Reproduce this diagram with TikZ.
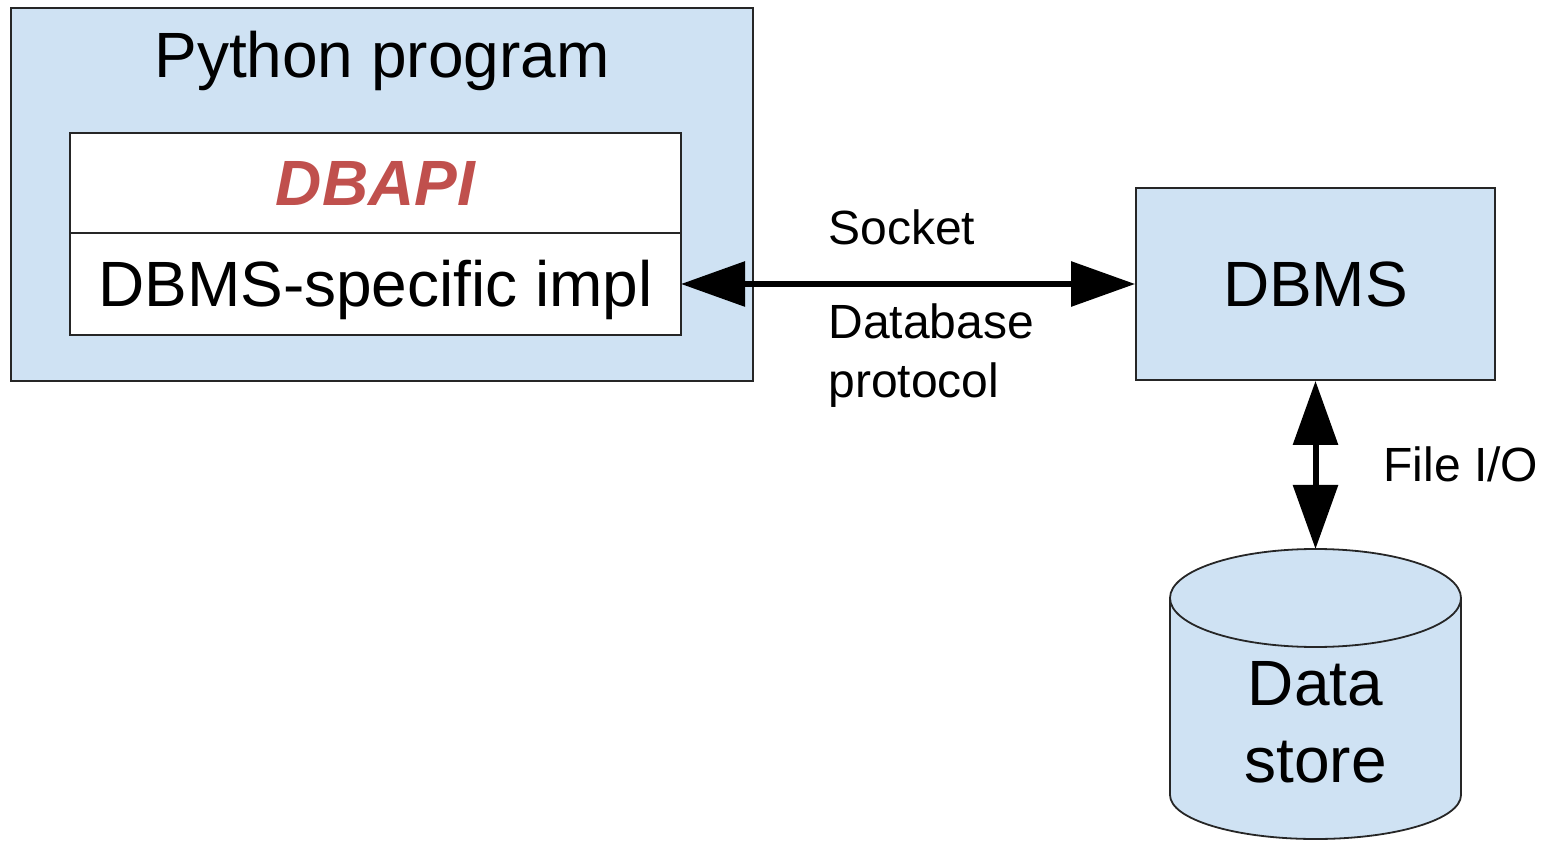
\documentclass[tikz,border=0pt]{standalone}
\usepackage{fontspec}
\setmainfont{Liberation Sans}
\usetikzlibrary{positioning,arrows.meta}
\definecolor{boxblue}{HTML}{CFE2F3}
\definecolor{apired}{HTML}{C0504D}
\tikzset{>={Triangle[length=32pt,width=22pt]}}
\tikzset{
  bigfont/.style={font=\fontsize{32}{38.5}\selectfont},
  smallfont/.style={font=\fontsize{24}{29.5}\selectfont, inner sep=0pt},
  apifont/.style={font=\fontsize{32}{38.5}\selectfont\bfseries\itshape, text=apired},
  capbox/.style={text height=23pt, text depth=0pt},
  bluebox/.style={draw=black!85, line width=0.9pt, fill=boxblue},
  whitebox/.style={draw=black!85, line width=0.9pt, fill=white,
    minimum width=305.5pt, outer sep=0pt},
  link/.style={<->, line width=3pt},
}

\begin{document}
\begin{tikzpicture}[x=0.5pt,y=0.5pt]
  \useasboundingbox (0,0) rectangle (1549,842);

  % Nodes
  \node[bluebox, minimum width=371pt, minimum height=186.5pt] (prog) at (382,647.5) {};
  \node[bigfont, anchor=base] (title) at (382,764) {Python program};
  \node[whitebox, capbox, apifont, minimum height=50pt] (api) at (375.5,659) {DBAPI};
  \node[whitebox, capbox, bigfont, minimum height=51pt, below=0pt of api] (impl) {DBMS-specific impl};
  \node[bluebox, capbox, bigfont, minimum width=179.5pt, minimum height=96pt] (dbms) at (1315.5,558) {DBMS};

  % Data store cylinder
  \filldraw[bluebox] (1170,244) -- (1170,47)
    arc[start angle=180, end angle=360, x radius=72.75pt, y radius=22pt]
    -- (1461,244)
    arc[start angle=0, end angle=180, x radius=72.75pt, y radius=24.5pt] -- cycle;
  \draw[draw=black!85, line width=0.9pt] (1170,244)
    arc[start angle=180, end angle=360, x radius=72.75pt, y radius=24.5pt];
  \coordinate (storetop) at (1315.5,293);
  \node[bigfont, align=center] (store) at (1315.5,120) {Data\\store};

  % Labels
  \node[smallfont, anchor=base west] (socket) at (828,597) {Socket};
  \node[smallfont, anchor=base west, align=left] (proto) at (828,444) {Database\\protocol};
  \node[smallfont, anchor=base west] (fileio) at (1383,360) {File I/O};

  % Edges
  \draw[link] (impl.east) -- (impl.east -| dbms.west);
  \draw[link] (dbms.south) -- (storetop);
\end{tikzpicture}
\end{document}
